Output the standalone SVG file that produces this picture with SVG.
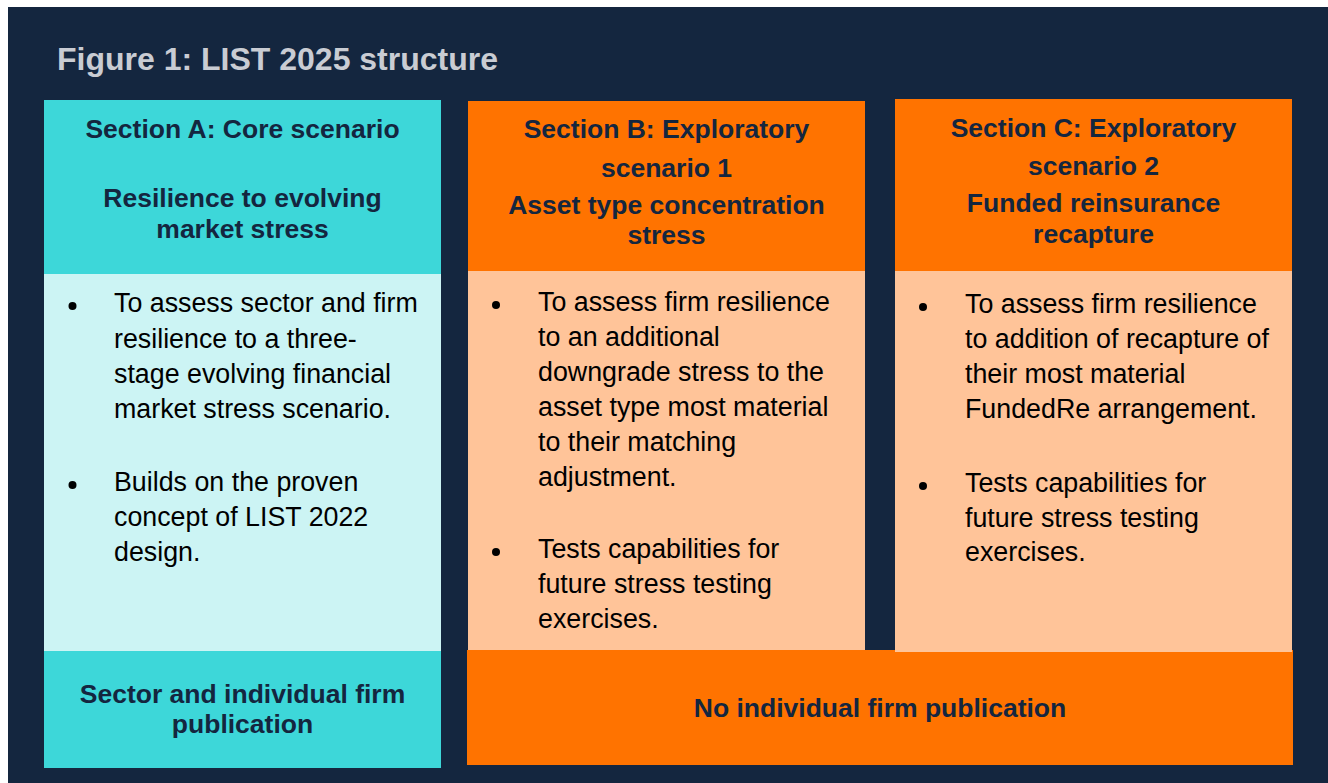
<svg xmlns="http://www.w3.org/2000/svg" width="1328" height="783" viewBox="0 0 1328 783">
<style>
.t{font-family:"Liberation Sans",Arial,sans-serif}
.title{font-size:32px;font-weight:bold;fill:#C9CCD3}
.h{font-size:26.5px;font-weight:bold;fill:#14263F;text-anchor:middle}
.b{font-size:26.8px;fill:#000}
.dot{fill:#000}
.teal{fill:#3DD7D9}
.lteal{fill:#CCF4F4}
.orange{fill:#FF7300}
.peach{fill:#FFC499}
</style>
<rect x="0" y="0" width="1328" height="783" fill="#ffffff"/>
<rect x="8" y="7" width="1320" height="776" fill="#14263F"/>
<text class="t title" x="57" y="70">Figure 1: LIST 2025 structure</text>

<g id="footer-bc">
<rect class="orange" x="467" y="650" width="826" height="115"/>
<text class="t h" x="880" y="717">No individual firm publication</text>
</g>

<g id="section-a">
<rect class="teal" x="44" y="100" width="397" height="174"/>
<rect class="lteal" x="44" y="274" width="397" height="377"/>
<text class="t h" x="242.5" y="138">Section A: Core scenario</text>
<text class="t h" x="242.5" y="207">Resilience to evolving</text>
<text class="t h" x="242.5" y="238">market stress</text>
<circle class="dot" cx="72.5" cy="306" r="4"/>
<text class="t b" x="114" y="312">To assess sector and firm</text>
<text class="t b" x="114" y="348">resilience to a three-</text>
<text class="t b" x="114" y="383">stage evolving financial</text>
<text class="t b" x="114" y="418">market stress scenario.</text>
<circle class="dot" cx="72.5" cy="485" r="4"/>
<text class="t b" x="114" y="491">Builds on the proven</text>
<text class="t b" x="114" y="526">concept of LIST 2022</text>
<text class="t b" x="114" y="561">design.</text>
</g>

<g id="footer-a">
<rect class="teal" x="44" y="651" width="397" height="117"/>
<text class="t h" x="242.5" y="703">Sector and individual firm</text>
<text class="t h" x="242.5" y="733">publication</text>
</g>

<g id="section-b">
<rect class="orange" x="468" y="101" width="397" height="170"/>
<rect class="peach" x="468" y="271" width="397" height="379"/>
<text class="t h" x="666.5" y="138">Section B: Exploratory</text>
<text class="t h" x="666.5" y="177">scenario 1</text>
<text class="t h" x="666.5" y="214">Asset type concentration</text>
<text class="t h" x="666.5" y="244">stress</text>
<circle class="dot" cx="496" cy="305" r="4"/>
<text class="t b" x="538" y="311">To assess firm resilience</text>
<text class="t b" x="538" y="346">to an additional</text>
<text class="t b" x="538" y="381">downgrade stress to the</text>
<text class="t b" x="538" y="416">asset type most material</text>
<text class="t b" x="538" y="451">to their matching</text>
<text class="t b" x="538" y="486">adjustment.</text>
<circle class="dot" cx="496" cy="552" r="4"/>
<text class="t b" x="538" y="558">Tests capabilities for</text>
<text class="t b" x="538" y="593">future stress testing</text>
<text class="t b" x="538" y="628">exercises.</text>
</g>

<g id="section-c">
<rect class="orange" x="895" y="99" width="397" height="172"/>
<rect class="peach" x="895" y="271" width="397" height="381"/>
<text class="t h" x="1093.5" y="137">Section C: Exploratory</text>
<text class="t h" x="1093.5" y="175">scenario 2</text>
<text class="t h" x="1093.5" y="212">Funded reinsurance</text>
<text class="t h" x="1093.5" y="243">recapture</text>
<circle class="dot" cx="923" cy="307" r="4"/>
<text class="t b" x="965" y="313">To assess firm resilience</text>
<text class="t b" x="965" y="348">to addition of recapture of</text>
<text class="t b" x="965" y="383">their most material</text>
<text class="t b" x="965" y="418">FundedRe arrangement.</text>
<circle class="dot" cx="923" cy="486" r="4"/>
<text class="t b" x="965" y="492">Tests capabilities for</text>
<text class="t b" x="965" y="527">future stress testing</text>
<text class="t b" x="965" y="561">exercises.</text>
</g>

<g id="connectors"></g>
</svg>
